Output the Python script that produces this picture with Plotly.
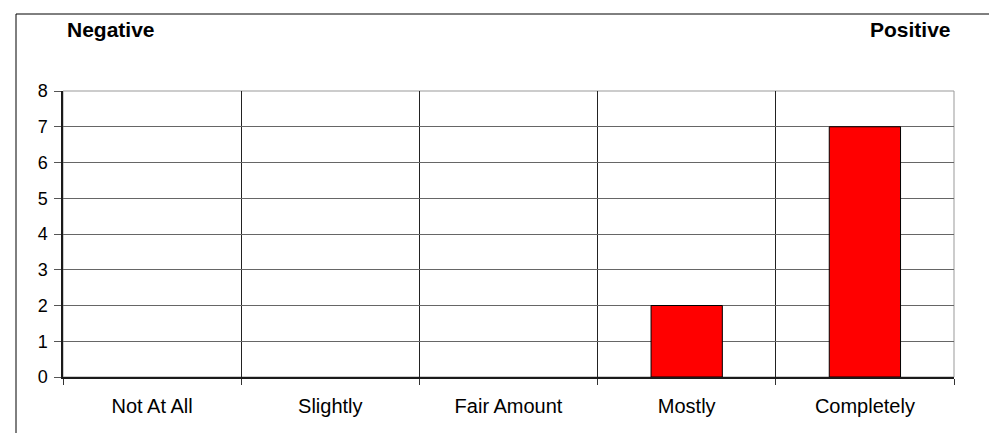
import plotly.graph_objects as go

categories = ["Not At All", "Slightly", "Fair Amount", "Mostly", "Completely"]
counts = [0, 0, 0, 2, 7]
y_ticks = [0, 1, 2, 3, 4, 5, 6, 7, 8]
left_label = "Negative"
right_label = "Positive"

W, H = 997, 433
L, R, T, B = 55, 51, 83, 64
pw, ph = W - L - R, H - T - B

def px_x(p):
    return (p - L) / pw

def px_y(p):
    return (H - B - p) / ph

font_fam = "Liberation Sans, Arial, sans-serif"

# zero-height bars get no outline (Excel draws nothing for them)
outline_w = [1 if v > 0 else 0 for v in counts]

fig = go.Figure()
fig.add_trace(go.Bar(
    x=categories, y=counts, width=0.4,
    marker=dict(color="#FF0000", line=dict(color="#000000", width=outline_w)),
    hoverinfo="x+y",
))

fig.update_layout(
    width=W, height=H,
    margin=dict(l=L, r=R, t=T, b=B),
    paper_bgcolor="white", plot_bgcolor="white",
    showlegend=False,
    font=dict(family=font_fam, color="#000000"),
    xaxis=dict(
        type="category", tickson="boundaries",
        showgrid=True, gridcolor="#222222", gridwidth=1,
        showline=True, linecolor="#1a1a1a", linewidth=1.5,
        ticks="outside", ticklen=6, tickcolor="#333333",
        tickfont=dict(size=20, family=font_fam, color="#000000"),
        ticklabelstandoff=10,
        zeroline=False,
    ),
    yaxis=dict(
        range=[0, 8], tickvals=y_ticks,
        showgrid=True, gridcolor="#666666", gridwidth=1,
        showline=True, linecolor="#1a1a1a", linewidth=1.5,
        ticks="outside", ticklen=7, tickcolor="#555555",
        tickfont=dict(size=18, family=font_fam, color="#000000"),
        ticklabelstandoff=3,
        zeroline=False,
    ),
    shapes=[
        dict(type="rect", xref="paper", yref="paper", x0=0, x1=1, y0=0, y1=1,
             line=dict(color="#999999", width=1), layer="below"),
        dict(type="rect", xref="paper", yref="paper",
             x0=px_x(8), x1=px_x(W + 20), y0=px_y(H + 20), y1=px_y(6),
             line=dict(color="#000000", width=1)),
    ],
    annotations=[
        dict(text="<b>" + left_label + "</b>", xref="paper", yref="paper",
             x=px_x(57), y=px_y(22), xanchor="left", yanchor="middle",
             showarrow=False, font=dict(size=21, family=font_fam, color="#000000")),
        dict(text="<b>" + right_label + "</b>", xref="paper", yref="paper",
             x=px_x(945), y=px_y(22), xanchor="right", yanchor="middle",
             showarrow=False, font=dict(size=21, family=font_fam, color="#000000")),
    ],
)

fig.write_html("out.html")
